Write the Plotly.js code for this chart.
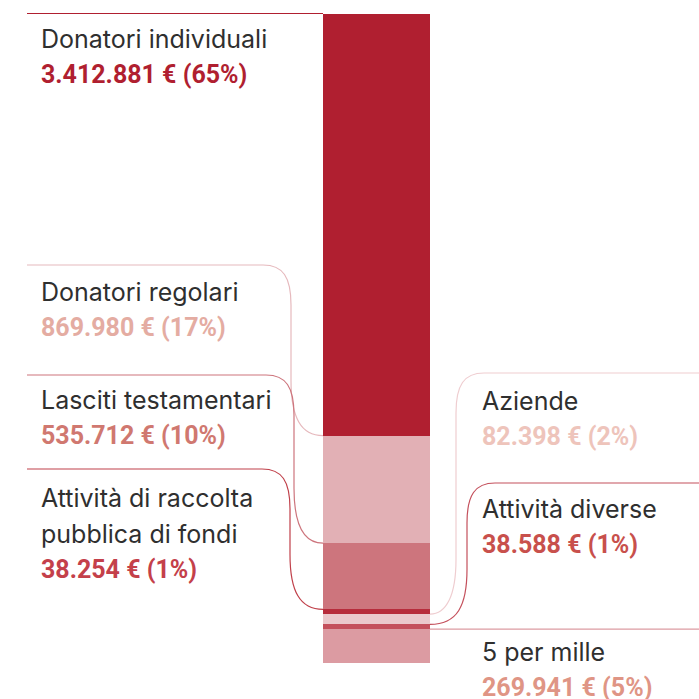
<!DOCTYPE html>
<html>
<head>
<meta charset="utf-8">
<script src="https://cdn.plot.ly/plotly-3.0.1.min.js"></script>
<style>
  html, body { margin: 0; padding: 0; background: #fff; }
  #chart { width: 699px; height: 699px; }
</style>
</head>
<body>
<div id="chart"></div>
<script>
// data, top of the bar first
const categories = ['Donatori individuali', 'Donatori regolari', 'Lasciti testamentari',
  'Attività di raccolta<br>pubblica di fondi', 'Aziende', 'Attività diverse', '5 per mille'];
const amounts = [3412881, 869980, 535712, 38254, 82398, 38588, 269941];
const amountLabels = ['3.412.881 €', '869.980 €', '535.712 €', '38.254 €', '82.398 €', '38.588 €', '269.941 €'];
const shares = ['65%', '17%', '10%', '1%', '2%', '1%', '5%'];
const barColors = ['#b01f30', '#e2b0b5', '#cd757d', '#b72c3c', '#ebc8cc', '#c4505c', '#dc9ba2'];
const lineColors = ['#b01f30', '#e6b9bd', '#cd757d', '#c0404a', '#efcdd0', '#c4505c', '#dc9ba2'];
const valueColors = ['#b01f30', '#e4aca2', '#d07870', '#c4404a', '#eec4bb', '#c8504c', '#df9585'];

// label layout (pixels): side, first baseline, leader row, bend x
const sides = ['left', 'left', 'left', 'left', 'right', 'right', 'right'];
const baselines = [47, 300, 408, 506, 409, 517, 660];
const leaderY = [null, 265, 375, 469, 373, 483, null];
const bendX = [null, 291, 294, 290, 456, 467, null];

const W = 699, H = 699;
const barLeft = 323, barRight = 430, barTopPx = 13.5, barBottomPx = 662.5;
const total = amounts.reduce((a, b) => a + b, 0);

// axis ranges so that the bar lands where it should on the page
const xRange = [-0.5 - barLeft / (barRight - barLeft), -0.5 + (W - barLeft) / (barRight - barLeft)];
const perPx = total / (barBottomPx - barTopPx);
const yRange = [-(H - barBottomPx) * perPx, total + barTopPx * perPx];

const px2x = p => xRange[0] + p / W * (xRange[1] - xRange[0]);
const px2y = p => yRange[1] - p / H * (yRange[1] - yRange[0]);
const y2px = v => (yRange[1] - v) / (yRange[1] - yRange[0]) * H;

// stacked bar, bottom segment first
let traces = [];
for (let i = amounts.length - 1; i >= 0; i--) {
  traces.push({
    type: 'bar',
    x: [0],
    y: [amounts[i]],
    width: 1,
    name: categories[i],
    marker: { color: barColors[i], line: { width: 0 } },
    hoverinfo: 'skip',
    showlegend: false
  });
}

// top of each segment in data units
let segTop = [];
let acc = total;
for (let i = 0; i < amounts.length; i++) {
  segTop.push(acc);
  acc -= amounts[i];
}

const toPath = pts => pts.map(s => {
  if (typeof s === 'string') return s;
  return px2x(s[0]).toFixed(5) + ',' + px2y(s[1]).toFixed(2);
}).join(' ');

let shapes = [];
for (let i = 0; i < amounts.length; i++) {
  const B = y2px(segTop[i]);
  let path;
  if (leaderY[i] === null) {
    if (sides[i] === 'left') {
      path = toPath(['M', [27, B], 'L', [barLeft, B]]);
    } else {
      path = toPath(['M', [barRight, B], 'L', [W, B]]);
    }
  } else {
    const L = leaderY[i], xv = bendX[i];
    if (sides[i] === 'left') {
      path = toPath(['M', [27, L], 'L', [xv - 28, L],
        'C', [xv - 8, L], [xv, L + 12], [xv, L + 40],
        'L', [xv, B - 55],
        'C', [xv, B - 18], [xv + 10, B], [barLeft, B]]);
    } else {
      path = toPath(['M', [barRight, B],
        'C', [xv - 10, B], [xv, B - 18], [xv, B - 55],
        'L', [xv, L + 40],
        'C', [xv, L + 12], [xv + 8, L], [xv + 28, L],
        'L', [W, L]]);
    }
  }
  shapes.push({
    type: 'path', xref: 'x', yref: 'y', path: path,
    line: { color: lineColors[i], width: 1.2 }, layer: 'above'
  });
}

// one annotation per text line, baseline spacing 36px
const labelSize = 25, valueSize = 25, lineStep = 36;
let annotations = [];
const addLine = (x, baseline, text, font) => {
  annotations.push({
    xref: 'paper', yref: 'paper',
    x: x / W, y: 1 - (baseline - font.size * 1.0) / H,
    xanchor: 'left', yanchor: 'top', align: 'left',
    showarrow: false, text: text, font: font
  });
};
for (let i = 0; i < amounts.length; i++) {
  const x = sides[i] === 'left' ? 39 : 480;
  const rows = categories[i].split('<br>');
  let b = baselines[i];
  rows.forEach(r => {
    addLine(x, b, r, { family: 'Inter, sans-serif', size: labelSize, color: '#2f2f2f' });
    b += lineStep;
  });
  addLine(x, b, '<b>' + amountLabels[i] + ' (' + shares[i] + ')</b>',
    { family: 'Roboto, sans-serif', size: valueSize, color: valueColors[i] });
}

const layout = {
  width: W, height: H,
  margin: { l: 0, r: 0, t: 0, b: 0 },
  paper_bgcolor: '#ffffff', plot_bgcolor: '#ffffff',
  barmode: 'stack', bargap: 0,
  xaxis: { range: xRange, visible: false, fixedrange: true },
  yaxis: { range: yRange, visible: false, fixedrange: true },
  shapes: shapes,
  annotations: annotations,
  showlegend: false
};

Plotly.newPlot('chart', traces, layout, { staticPlot: true, displayModeBar: false });
</script>
</body>
</html>
